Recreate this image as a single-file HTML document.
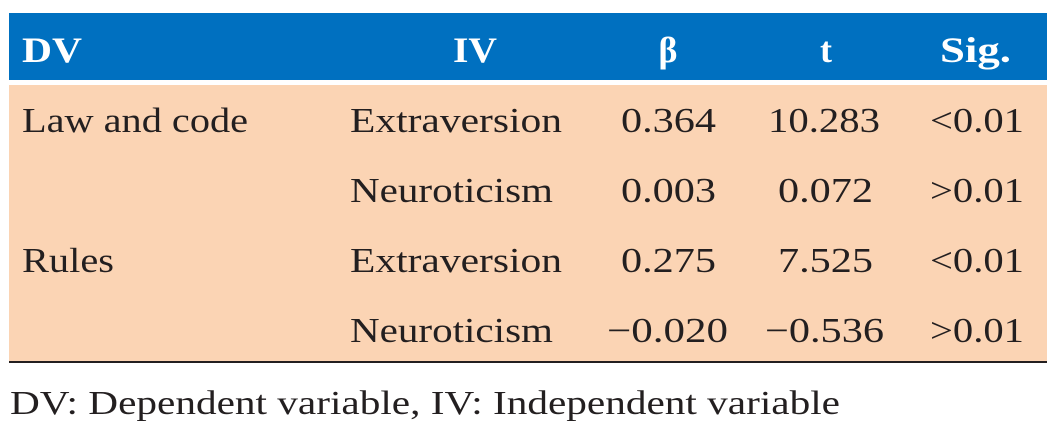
<!DOCTYPE html>
<html><head><meta charset="utf-8"><style>
html,body{margin:0;padding:0;background:#fff;}
svg{display:block;font-family:"Liberation Serif",serif;}
</style></head><body>
<svg width="1056" height="433" viewBox="0 0 1056 433">
<rect x="9" y="13" width="1038" height="67" fill="#0070c0"/>
<rect x="9" y="85" width="1038" height="276" fill="#fbd4b4"/>
<rect x="9" y="361" width="1038" height="2" fill="#231f20"/>
<g font-weight="bold" fill="#fff" font-size="36" lengthAdjust="spacingAndGlyphs">
<text x="22" y="62" textLength="60" lengthAdjust="spacingAndGlyphs">DV</text>
<text x="453" y="62" textLength="44" lengthAdjust="spacingAndGlyphs">IV</text>
<text x="668" y="62" text-anchor="middle">β</text>
<text x="826" y="62" text-anchor="middle">t</text>
<text x="940" y="62" textLength="71" lengthAdjust="spacingAndGlyphs">Sig.</text>
</g>
<g fill="#231f20" font-size="35">
<text x="22" y="132" textLength="226" lengthAdjust="spacingAndGlyphs">Law and code</text>
<text x="350" y="132" textLength="212" lengthAdjust="spacingAndGlyphs">Extraversion</text>
<text x="621" y="132" textLength="95" lengthAdjust="spacingAndGlyphs">0.364</text>
<text x="768" y="132" textLength="112" lengthAdjust="spacingAndGlyphs">10.283</text>
<text x="930" y="132" textLength="94" lengthAdjust="spacingAndGlyphs">&lt;0.01</text>

<text x="350" y="202" textLength="203" lengthAdjust="spacingAndGlyphs">Neuroticism</text>
<text x="621" y="202" textLength="95" lengthAdjust="spacingAndGlyphs">0.003</text>
<text x="778" y="202" textLength="95" lengthAdjust="spacingAndGlyphs">0.072</text>
<text x="930" y="202" textLength="94" lengthAdjust="spacingAndGlyphs">&gt;0.01</text>

<text x="22" y="272" textLength="92" lengthAdjust="spacingAndGlyphs">Rules</text>
<text x="350" y="272" textLength="212" lengthAdjust="spacingAndGlyphs">Extraversion</text>
<text x="621" y="272" textLength="95" lengthAdjust="spacingAndGlyphs">0.275</text>
<text x="778" y="272" textLength="95" lengthAdjust="spacingAndGlyphs">7.525</text>
<text x="930" y="272" textLength="94" lengthAdjust="spacingAndGlyphs">&lt;0.01</text>

<text x="350" y="342" textLength="203" lengthAdjust="spacingAndGlyphs">Neuroticism</text>
<text x="607" y="342" textLength="121" lengthAdjust="spacingAndGlyphs">−0.020</text>
<text x="765" y="342" textLength="119" lengthAdjust="spacingAndGlyphs">−0.536</text>
<text x="930" y="342" textLength="94" lengthAdjust="spacingAndGlyphs">&gt;0.01</text>

<text x="10" y="414" font-size="34" textLength="830" lengthAdjust="spacingAndGlyphs">DV: Dependent variable, IV: Independent variable</text>
</g>
</svg>
</body></html>
